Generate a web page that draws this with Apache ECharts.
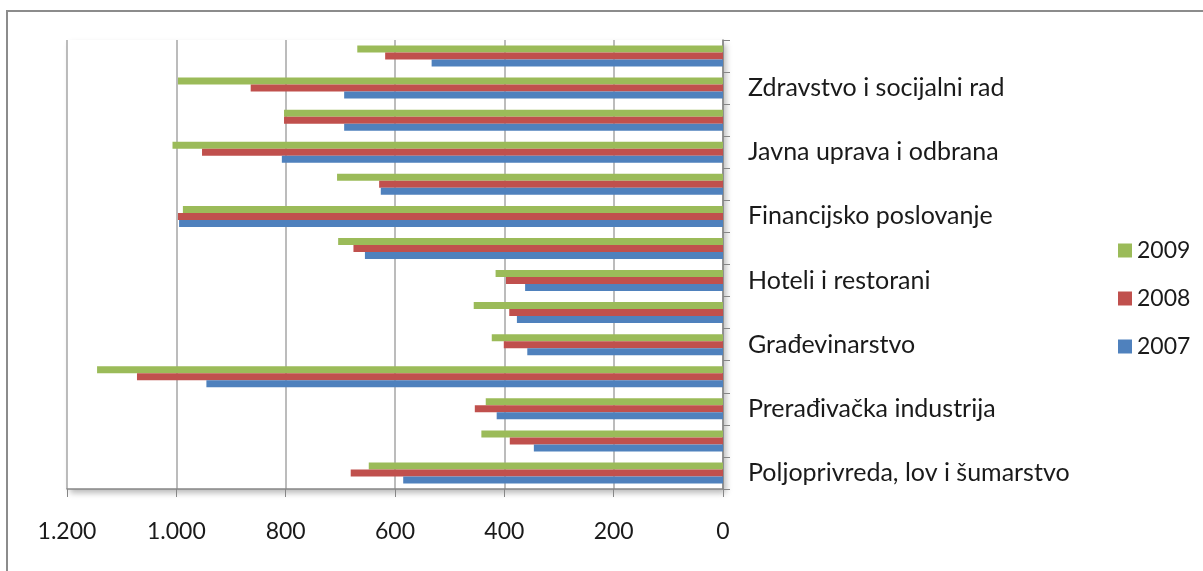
<!DOCTYPE html>
<html>
<head>
<meta charset="utf-8">
<script src="https://cdn.jsdelivr.net/npm/echarts@6/dist/echarts.min.js"></script>
<style>
html,body{margin:0;padding:0;background:#fff;}
#chart{width:1203px;height:571px;}
</style>
</head>
<body>
<div id="chart"></div>
<script>
// Categories, bottom to top (only every other one is labelled in the original)
const categories = [
  'Poljoprivreda, lov i šumarstvo',
  'Ribarstvo',
  'Prerađivačka industrija',
  'Proizvodnja i snabdijevanje električnom energijom, plinom i vodom',
  'Građevinarstvo',
  'Trgovina na veliko i malo',
  'Hoteli i restorani',
  'Saobraćaj, skladištenje i komunikacije',
  'Financijsko poslovanje',
  'Poslovanje nekretninama',
  'Javna uprava i odbrana',
  'Obrazovanje',
  'Zdravstvo i socijalni rad',
  'Ostale društvene i lične uslužne djelatnosti'
];
const values2009 = [648, 442, 434, 1145, 423, 456, 416, 704, 988, 706, 1007, 803, 997, 669];
const values2008 = [681, 390, 454, 1072, 401, 391, 397, 676, 997, 629, 953, 803, 864, 618];
const values2007 = [585, 346, 414, 945, 358, 377, 362, 655, 995, 626, 807, 693, 693, 533];
const seriesNames = ['2009', '2008', '2007'];
const xTicks = { min: 0, max: 1200, step: 200 };

const colors = { '2009': '#9BBB59', '2008': '#C0504D', '2007': '#4F81BD' };
const FONT = 'Lato';

function fmt(v) {
  return String(v).replace(/\B(?=(\d{3})+(?!\d))/g, '.');
}

const chart = echarts.init(document.getElementById('chart'), null, { renderer: 'canvas' });
const dataBy = { '2009': values2009, '2008': values2008, '2007': values2007 };

chart.setOption({
  animation: false,
  backgroundColor: '#fff',
  textStyle: { fontFamily: FONT },
  graphic: [{
    type: 'rect',
    silent: true,
    z: -10,
    shape: { x: 7, y: 11, width: 1400, height: 800 },
    style: { fill: 'none', stroke: '#8c8c8c', lineWidth: 2 }
  }],
  grid: {
    left: 67, right: 480, top: 40, bottom: 82,
    show: true, borderWidth: 0, backgroundColor: '#fff',
    shadowBlur: 6, shadowOffsetX: 3, shadowOffsetY: 4, shadowColor: 'rgba(0,0,0,0.28)'
  },
  legend: {
    orient: 'vertical',
    left: 1113, top: 234,
    data: seriesNames,
    icon: 'rect',
    itemWidth: 14, itemHeight: 14,
    itemGap: 25,
    textStyle: { fontFamily: FONT, fontSize: 23, lineHeight: 23, color: '#1a1a1a' }
  },
  xAxis: {
    type: 'value',
    inverse: true,
    min: xTicks.min, max: xTicks.max, interval: xTicks.step,
    axisLine: { show: true, lineStyle: { color: '#868686', width: 1.5 } },
    axisTick: { show: true, length: 8, lineStyle: { color: '#868686' } },
    splitLine: { show: true, lineStyle: { color: '#a6a6a6', width: 1.5 } },
    axisLabel: {
      margin: 31, fontFamily: FONT, fontSize: 23, color: '#1a1a1a',
      formatter: v => fmt(v)
    }
  },
  yAxis: {
    type: 'category',
    position: 'right',
    data: categories,
    axisLine: { show: true, lineStyle: { color: '#868686', width: 1.5 } },
    axisTick: { show: true, interval: 0, length: 7, lineStyle: { color: '#868686' } },
    axisLabel: {
      interval: 1, margin: 25, fontFamily: FONT, fontSize: 25, color: '#1a1a1a'
    }
  },
  series: seriesNames.map(n => ({
    name: n,
    type: 'bar',
    data: dataBy[n],
    barWidth: 7,
    barGap: '0%',
    itemStyle: { color: colors[n] }
  }))
});
</script>
</body>
</html>
